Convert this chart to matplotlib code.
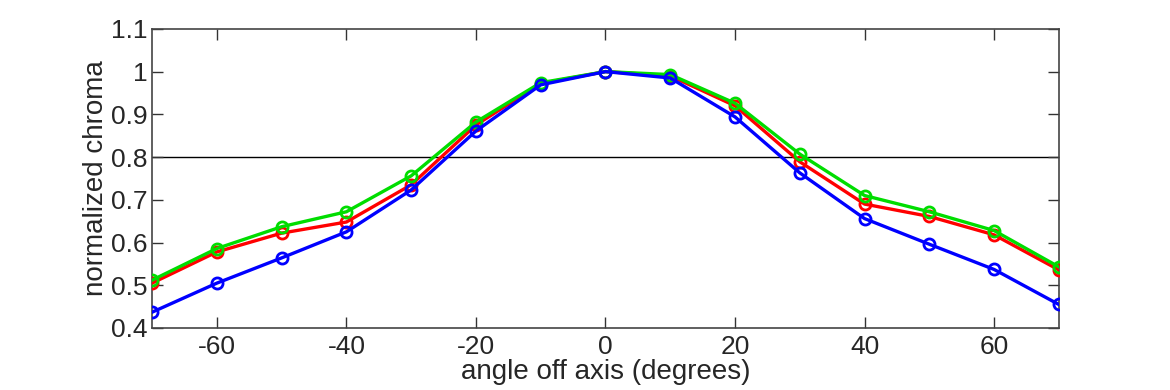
import matplotlib
matplotlib.use("Agg")
import matplotlib.pyplot as plt

angles = [-70, -60, -50, -40, -30, -20, -10, 0, 10, 20, 30, 40, 50, 60, 70]
red = [0.505, 0.578, 0.622, 0.648, 0.735, 0.875, 0.972, 1.0, 0.990, 0.920, 0.789, 0.690, 0.661, 0.618, 0.536]
green = [0.512, 0.586, 0.637, 0.672, 0.756, 0.882, 0.974, 1.0, 0.993, 0.926, 0.807, 0.710, 0.672, 0.628, 0.543]
blue = [0.437, 0.505, 0.564, 0.625, 0.723, 0.861, 0.969, 1.0, 0.985, 0.894, 0.763, 0.656, 0.596, 0.537, 0.455]
threshold = 0.8
xticks = [-60, -40, -20, 0, 20, 40, 60]
yticks = [0.4, 0.5, 0.6, 0.7, 0.8, 0.9, 1.0, 1.1]
yticklabels = ["0.4", "0.5", "0.6", "0.7", "0.8", "0.9", "1", "1.1"]

plt.rcParams['font.family'] = ['Liberation Sans', 'DejaVu Sans']
plt.rcParams['axes.unicode_minus'] = False

fig = plt.figure(figsize=(11.7, 3.9), dpi=100)
ax = fig.add_axes([0.13, 0.159, 0.775, 0.767])

ax.axhline(threshold, color='black', lw=1.0, zorder=1)
for vals, col in [(red, '#ff0000'), (green, '#00dd00'), (blue, '#0000ff')]:
    ax.plot(angles, vals, color=col, lw=2.4, marker='o', ms=8, mfc='none',
            mec=col, mew=2.0, zorder=3)

ax.set_xlim(-70, 70)
ax.set_ylim(0.4, 1.1)
ax.set_xticks(xticks)
ax.set_yticks(yticks)
ax.set_yticklabels(yticklabels)
ax.tick_params(direction='in', length=8, width=1, top=True, right=True,
               labelsize=19, colors='#333333', labelcolor='#262626')
ax.tick_params(axis='y', pad=3)
ax.tick_params(axis='x', pad=5)
for s in ax.spines.values():
    s.set_color('#444444')
    s.set_linewidth(1.2)
ax.set_xlabel('angle off axis (degrees)', fontsize=20, color='#262626', labelpad=0)
ax.set_ylabel('normalized chroma', fontsize=20, color='#262626', labelpad=2)

fig.savefig('out.png', dpi=100, facecolor='white')
